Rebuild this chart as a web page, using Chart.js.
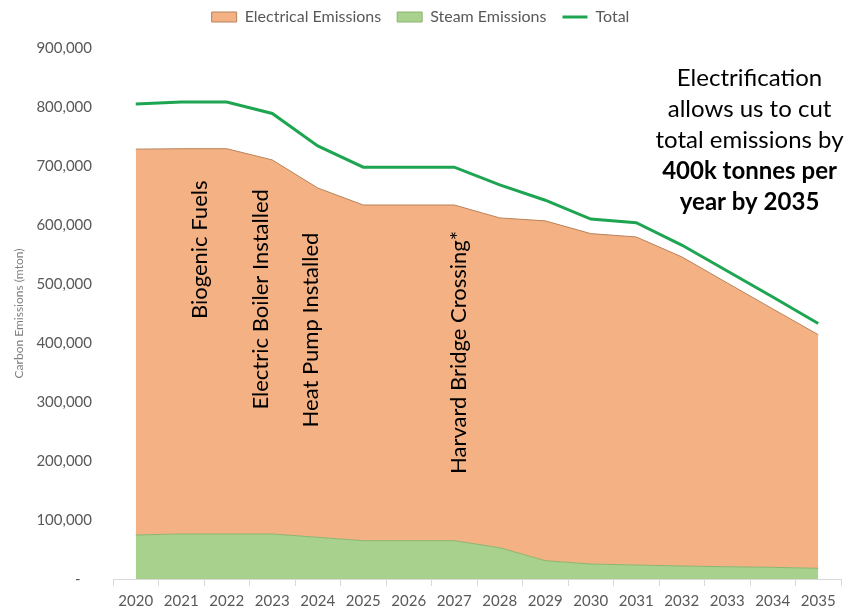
<!DOCTYPE html>
<html>
<head>
<meta charset="utf-8">
<script src="https://cdn.jsdelivr.net/npm/chart.js@4.4.1/dist/chart.umd.min.js"></script>
<style>
html, body { margin: 0; padding: 0; background: #fff; }
#wrap { width: 852px; height: 611px; }
</style>
</head>
<body>
<div id="wrap"><canvas id="chart"></canvas></div>
<script>
const years = ["2020", "2021", "2022", "2023", "2024", "2025", "2026", "2027",
               "2028", "2029", "2030", "2031", "2032", "2033", "2034", "2035"]

// tonnes CO2
const electrical = [654000, 653000, 653000, 634000, 592000, 569000, 569000, 569000,
                    559000, 576000, 560000, 556000, 524000, 481000, 438000, 396000]
const steam = [74600, 76300, 76300, 76300, 70700, 64900, 64900, 64900,
               53000, 31000, 25400, 23700, 22000, 20800, 19800, 18100]
const total = [805000, 808500, 808500, 789000, 734000, 698000, 698000, 698000,
               668000, 642000, 610000, 604000, 566000, 522000, 478000, 433000]

const yTicks = [0, 100000, 200000, 300000, 400000, 500000, 600000, 700000, 800000, 900000]

// milestone notes (vertical text), placed in data units
const noteLabels = ["Biogenic Fuels", "Electric Boiler Installed", "Heat Pump Installed", "Harvard Bridge Crossing*"]
const notePos = [1.4, 2.76, 3.84, 7.1]
const noteMid = [558000, 474000, 422000, 384000]

const calloutLines = ["Electrification", "allows us to cut", "total emissions by", "400k tonnes per", "year by 2035"]
const calloutBold = [false, false, false, true, true]
const calloutPos = 13.49
const calloutTop = 836000

const legendRank = [1, 0, 2] // dataset index -> legend slot

const notesPlugin = {
    id: "notes",
    afterDatasetsDraw(chart) {
        const { ctx, scales: { x, y } } = chart
        ctx.save()
        ctx.fillStyle = "#000"
        ctx.textAlign = "center"
        ctx.textBaseline = "middle"
        ctx.font = "22px Lato"
        noteLabels.forEach((t, i) => {
            ctx.save()
            ctx.translate(x.getPixelForValue(notePos[i]), y.getPixelForValue(noteMid[i]))
            ctx.rotate(-Math.PI / 2)
            ctx.fillText(t, 0, 0)
            ctx.restore()
        })

        ctx.textBaseline = "alphabetic"
        const cx = x.getPixelForValue(calloutPos)
        let cy = y.getPixelForValue(calloutTop)
        calloutLines.forEach((t, i) => {
            ctx.font = (calloutBold[i] ? "bold " : "") + "24px Lato"
            ctx.fillText(t, cx, cy)
            cy += 31
        })
        ctx.restore()
    }
}

const chart = new Chart(document.getElementById("chart"), {
    type: "line",
    data: {
        labels: years,
        datasets: [
            {
                label: "Steam Emissions",
                data: steam,
                backgroundColor: "#A9D18E",
                borderColor: "#8CB46F",
                borderWidth: 1,
                fill: "origin",
                pointRadius: 0,
                pointStyle: "rect",
                pointBorderWidth: 1,
                tension: 0,
                stack: "a"
            },
            {
                label: "Electrical Emissions",
                data: electrical,
                backgroundColor: "#F4B183",
                borderColor: "#B9825A",
                borderWidth: 1,
                fill: "-1",
                pointRadius: 0,
                pointStyle: "rect",
                pointBorderWidth: 1,
                tension: 0,
                stack: "a"
            },
            {
                label: "Total",
                data: total,
                borderColor: "#1DA551",
                backgroundColor: "#1DA551",
                borderWidth: 3,
                fill: false,
                pointRadius: 0,
                pointStyle: "line",
                pointBorderWidth: 3,
                tension: 0,
                stack: "b"
            }
        ]
    },
    options: {
        responsive: true,
        maintainAspectRatio: false,
        animation: false,
        events: [],
        layout: { padding: { top: -7, right: 11, left: 0, bottom: 0 } },
        plugins: {
            legend: {
                position: "top",
                weight: 3000,
                labels: {
                    usePointStyle: true,
                    pointStyleWidth: 25,
                    boxHeight: 10,
                    padding: 16,
                    color: "#595959",
                    font: { family: "Lato", size: 16 },
                    sort: (a, b) => legendRank[a.datasetIndex] - legendRank[b.datasetIndex]
                }
            },
            // empty title used as spacer between legend and plot
            title: { display: true, text: "", padding: 0, font: { size: 10, lineHeight: 1.3 } },
            tooltip: { enabled: false }
        },
        scales: {
            x: {
                offset: true,
                grid: { drawOnChartArea: false, drawTicks: true, tickLength: 7, offset: true, color: "#D9D9D9" },
                border: { display: true, color: "#D9D9D9" },
                ticks: { color: "#595959", font: { family: "Lato", size: 15 }, padding: 6, maxRotation: 0, autoSkip: false },
                afterFit: (s) => { s.height = 32 }
            },
            y: {
                stacked: true,
                min: 0,
                max: 900000,
                afterBuildTicks: (s) => { s.ticks = yTicks.map(v => ({ value: v })) },
                grid: { display: false, drawTicks: false },
                border: { display: false },
                ticks: {
                    color: "#595959",
                    font: { family: "Lato", size: 15 },
                    padding: 21,
                    callback: (v) => v === 0 ? "-   " : v.toLocaleString("en-US")
                },
                title: {
                    display: true,
                    text: "Carbon Emissions (mton)",
                    color: "#808080",
                    font: { family: "Lato", size: 12 },
                    padding: { top: 12, bottom: 0 }
                },
                afterFit: (s) => { s.width = 113 }
            }
        }
    },
    plugins: [notesPlugin]
})
</script>
</body>
</html>
